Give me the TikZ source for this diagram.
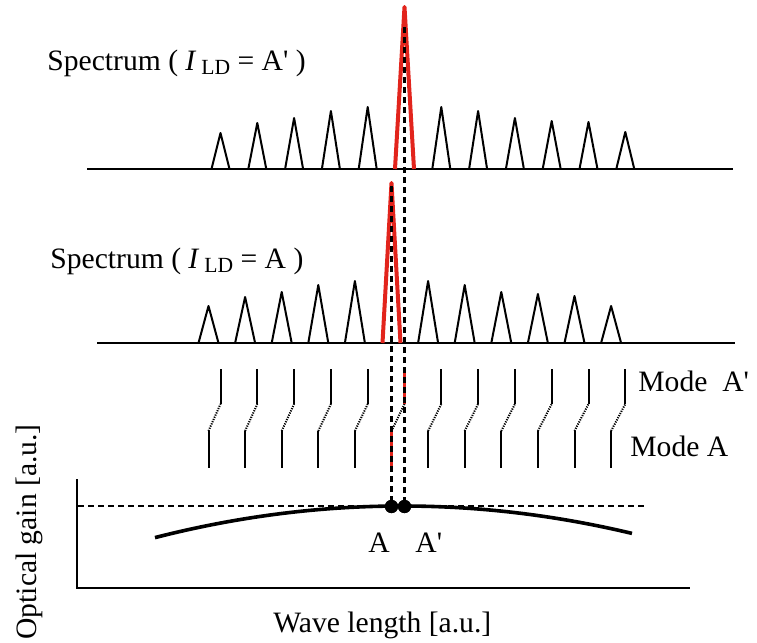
\documentclass[tikz,border=0pt]{standalone}
\usepackage{fontspec}
\setmainfont{Liberation Serif}[Ligatures=TeXOff]
\definecolor{peakred}{RGB}{226,36,28}
\newcommand{\subLD}{\raisebox{-2pt}{\fontsize{10.8}{12}\selectfont LD}}
\begin{document}
\begin{tikzpicture}[x=0.5pt,y=-0.5pt,
  txt/.style={inner sep=0pt, font=\fontsize{14.8}{17}\selectfont},
  spec/.style={line width=1pt, line join=round},
  redpk/.style={draw=peakred, line width=2pt, line join=round},
  vdash/.style={line width=1.1pt, dash pattern=on 3pt off 2pt},
  hdash/.style={line width=0.8pt, dash pattern=on 3pt off 2pt},
  modeline/.style={line width=1pt},
  modedot/.style={line width=1pt, dash pattern=on 0.6pt off 0.6pt},
  axis/.style={line width=1pt},
  gain/.style={line width=1.8pt},
  dotnode/.style={circle, fill=black, inner sep=0pt, minimum size=6.6pt}
]
\useasboundingbox (0,0) rectangle (757,643);

% ---------- top spectrum (I_LD = A') ----------
\draw[spec] (87,169) -- (733,169);
\foreach \h [count=\i from 0] in {133,123,118,111,107,7,107,111,118,121,122,132}{
  \pgfmathsetmacro\xx{404.5+36.8*(\i-5)}
  \ifnum\i=5\relax\else
    \draw[spec] (\xx-9,169) -- (\xx,\h) -- (\xx+9,169);
  \fi
}
\coordinate (apexAp) at (404.5,7);
\draw[redpk] (395,169) -- (apexAp) -- (414,169);

% ---------- middle spectrum (I_LD = A) ----------
\draw[spec] (97,343) -- (735,343);
\foreach \h [count=\i from 0] in {306,297,292,285,281,183,281,285,292,294,296,306}{
  \pgfmathsetmacro\xx{391.5+36.6*(\i-5)}
  \ifnum\i=5\relax\else
    \draw[spec] (\xx-10,343) -- (\xx,\h) -- (\xx+10,343);
  \fi
}
\coordinate (apexA) at (391.5,183);
\draw[redpk] (382.5,343) -- (apexA) -- (400.5,343);

% ---------- mode lines ----------
\foreach \i in {0,...,11}{
  \pgfmathsetmacro\xp{404.5+36.8*(\i-5)}
  \pgfmathsetmacro\xa{391.5+36.6*(\i-5)}
  \ifnum\i=5\relax
    \draw[modeline, peakred, line width=1.3pt] (\xp,369) -- (\xp,404);
    \draw[modeline, peakred, line width=1.3pt] (\xa,431) -- (\xa,468);
  \else
    \draw[modeline] (\xp,369) -- (\xp,404);
    \draw[modeline] (\xa,431) -- (\xa,468);
  \fi
  \draw[modedot] (\xa,431) -- (\xp,404);
}

% ---------- gain plot ----------
\draw[axis] (77,479) -- (77,588) -- (690,588);
\draw[hdash] (78,506) -- (647,506);
\draw[gain] plot[domain=155:632, samples=80, smooth] (\x,{506+5.18*((\x-402)/100)^2});

\node[dotnode] (dotA) at (391.5,506.5) {};
\node[dotnode] (dotAp) at (404.5,506.5) {};

% ---------- dashed guide lines ----------
\coordinate (dashAptop) at (404.5,27);
\coordinate (dashAtop) at (391.5,186);
\draw[vdash] (dashAptop) -- (dotAp.center);
\draw[vdash] (dashAtop) -- (dotA.center);
\node[dotnode] at (dotA) {};
\node[dotnode] at (dotAp) {};

% ---------- labels ----------
\node[txt, anchor=base west] (specAp) at (47,70)
  {Spectrum ( \textit{I}\,\subLD{} = A' )};
\node[txt, anchor=base west] (specA) at (50,268)
  {Spectrum ( \textit{I}\,\subLD{} = A )};
\node[txt, anchor=base west] (modeAp) at (638,391) {Mode\ \ A'};
\node[txt, anchor=base west] (modeA) at (630,456) {Mode A};
\node[txt, anchor=base] (labA) at (379,552) {A};
\node[txt, anchor=base west] (labAp) at (415,552) {A'};
\node[txt, anchor=base west] (xlab) at (273,632) {Wave length [a.u.]};
\node[txt, anchor=base west, rotate=90] (ylab) at (37,640) {Optical gain [a.u.]};
\end{tikzpicture}
\end{document}
